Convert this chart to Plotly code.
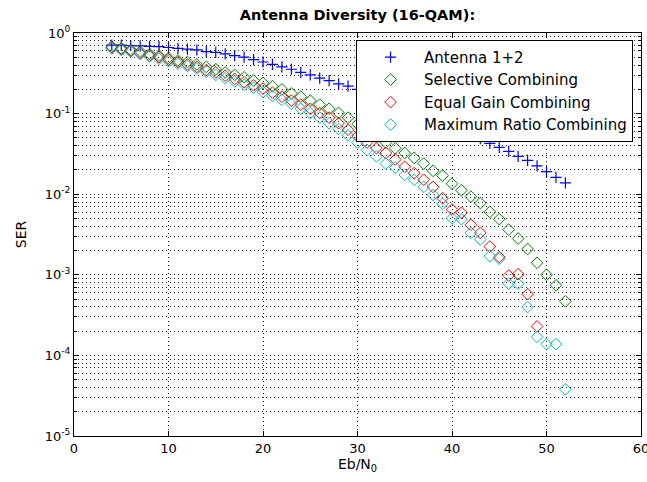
import plotly.graph_objects as go

ebn0 = list(range(4, 53))

ser_antenna12 = [0.708, 0.708, 0.700, 0.692, 0.684, 0.676, 0.661, 0.646, 0.631, 0.617,
                 0.589, 0.575, 0.550, 0.525, 0.501, 0.468, 0.437, 0.407, 0.380, 0.355,
                 0.324, 0.302, 0.275, 0.257, 0.234, 0.219, 0.200, 0.186, 0.170, 0.155,
                 0.141, 0.129, 0.117, 0.105, 0.0955, 0.0851, 0.0776, 0.0676, 0.0575, 0.0490,
                 0.0427, 0.0380, 0.0339, 0.0295, 0.0263, 0.0224, 0.0191, 0.0162, 0.0138]

ser_selective = [0.676, 0.646, 0.617, 0.589, 0.550, 0.525, 0.490, 0.457, 0.437, 0.407,
                 0.380, 0.355, 0.324, 0.302, 0.282, 0.257, 0.240, 0.219, 0.200, 0.178,
                 0.162, 0.145, 0.129, 0.115, 0.102, 0.0891, 0.0741, 0.0617, 0.0513, 0.0437,
                 0.0372, 0.0324, 0.0282, 0.0240, 0.0195, 0.0170, 0.0135, 0.0112, 0.00933, 0.00776,
                 0.00603, 0.00490, 0.00363, 0.00282, 0.00209, 0.00141, 0.00100, 0.000741, 0.000468]

ser_equal_gain = [0.661, 0.631, 0.603, 0.562, 0.525, 0.501, 0.468, 0.437, 0.407, 0.380,
                  0.347, 0.324, 0.295, 0.269, 0.245, 0.224, 0.204, 0.182, 0.162, 0.145,
                  0.129, 0.115, 0.102, 0.0891, 0.0759, 0.0631, 0.0525, 0.0437, 0.0372, 0.0324,
                  0.0269, 0.0219, 0.0182, 0.0151, 0.0123, 0.00891, 0.00646, 0.00589, 0.00417, 0.00331,
                  0.00224, 0.00166, 0.000977, 0.00102, 0.000575, 0.000229, None, None, None]

ser_max_ratio = [0.646, 0.617, 0.589, 0.550, 0.513, 0.479, 0.447, 0.417, 0.389, 0.363,
                 0.331, 0.302, 0.275, 0.251, 0.229, 0.209, 0.186, 0.166, 0.148, 0.132,
                 0.115, 0.102, 0.0891, 0.0759, 0.0646, 0.0537, 0.0437, 0.0355, 0.0295, 0.0240,
                 0.0214, 0.0174, 0.0151, 0.0123, 0.00977, 0.00759, 0.00501, 0.00490, 0.00331, 0.00275,
                 0.00170, 0.00158, 0.000776, 0.000776, 0.000398, 0.000170, 0.000138, 0.000138, 0.0000380]

ytick_vals = [1e-5, 1e-4, 1e-3, 1e-2, 1e-1, 1]
ytick_text = ["10<sup>-5</sup>", "10<sup>-4</sup>", "10<sup>-3</sup>",
              "10<sup>-2</sup>", "10<sup>-1</sup>", "10<sup>0</sup>"]
xtick_vals = [0, 10, 20, 30, 40, 50, 60]

FONT = "DejaVu Sans, Verdana, sans-serif"
GRID = "#222222"

fig = go.Figure()
fig.add_trace(go.Scatter(x=ebn0, y=ser_antenna12, mode="markers", name="Antenna 1+2",
                         marker=dict(symbol="cross-thin", size=8, color="#0000ff",
                                     line=dict(color="#0000ff", width=1.2))))
fig.add_trace(go.Scatter(x=ebn0, y=ser_selective, mode="markers", name="Selective Combining",
                         marker=dict(symbol="diamond-open", size=9, color="#008000",
                                     line=dict(color="#008000", width=1))))
fig.add_trace(go.Scatter(x=ebn0, y=ser_equal_gain, mode="markers", name="Equal Gain Combining",
                         marker=dict(symbol="diamond-open", size=9, color="#ff0000",
                                     line=dict(color="#ff0000", width=1))))
fig.add_trace(go.Scatter(x=ebn0, y=ser_max_ratio, mode="markers", name="Maximum Ratio Combining",
                         marker=dict(symbol="diamond-open", size=9, color="#00bfbf",
                                     line=dict(color="#00bfbf", width=1))))

fig.update_layout(
    width=647, height=482,
    margin=dict(l=74, r=6, t=33, b=46, autoexpand=False),
    paper_bgcolor="white", plot_bgcolor="white",
    font=dict(family=FONT, size=13, color="#000000"),
    title=dict(text="<b>Antenna Diversity (16-QAM):</b>", x=0.5525, xanchor="center",
               y=0.969, yref="container", yanchor="middle", font=dict(size=14.5, family=FONT)),
    showlegend=True,
    legend=dict(x=0.986, xanchor="right", y=0.983, yanchor="top",
                bgcolor="white", bordercolor="black", borderwidth=1,
                font=dict(size=15, family=FONT), itemsizing="trace", itemwidth=57),
    xaxis=dict(range=[0, 60], tickvals=xtick_vals, showline=True, linecolor="black",
               linewidth=1, mirror="ticks", ticks="inside", ticklen=5, tickcolor="black",
               showgrid=True, gridcolor=GRID, griddash="1px,3px", gridwidth=1,
               zeroline=False, title=dict(text="Eb/N<sub>0</sub>", standoff=2, font=dict(size=14)),
               tickfont=dict(size=13), automargin=False, ticklabeloverflow="allow"),
    yaxis=dict(type="log", range=[-5, 0], tickvals=ytick_vals, ticktext=ytick_text,
               showline=True, linecolor="black", linewidth=1, mirror="ticks",
               ticks="inside", ticklen=5, tickcolor="black",
               showgrid=True, gridcolor=GRID, griddash="1px,3px", gridwidth=1,
               zeroline=False, title=dict(text="SER", standoff=14, font=dict(size=14)),
               minor=dict(dtick="D1", ticks="inside", ticklen=3, tickcolor="black",
                          showgrid=True, gridcolor=GRID, griddash="1px,3px", gridwidth=1),
               tickfont=dict(size=13), automargin=False),
)

fig.write_html("out.html", config={"displayModeBar": False},
               post_script="document.body.style.margin='0px';")
